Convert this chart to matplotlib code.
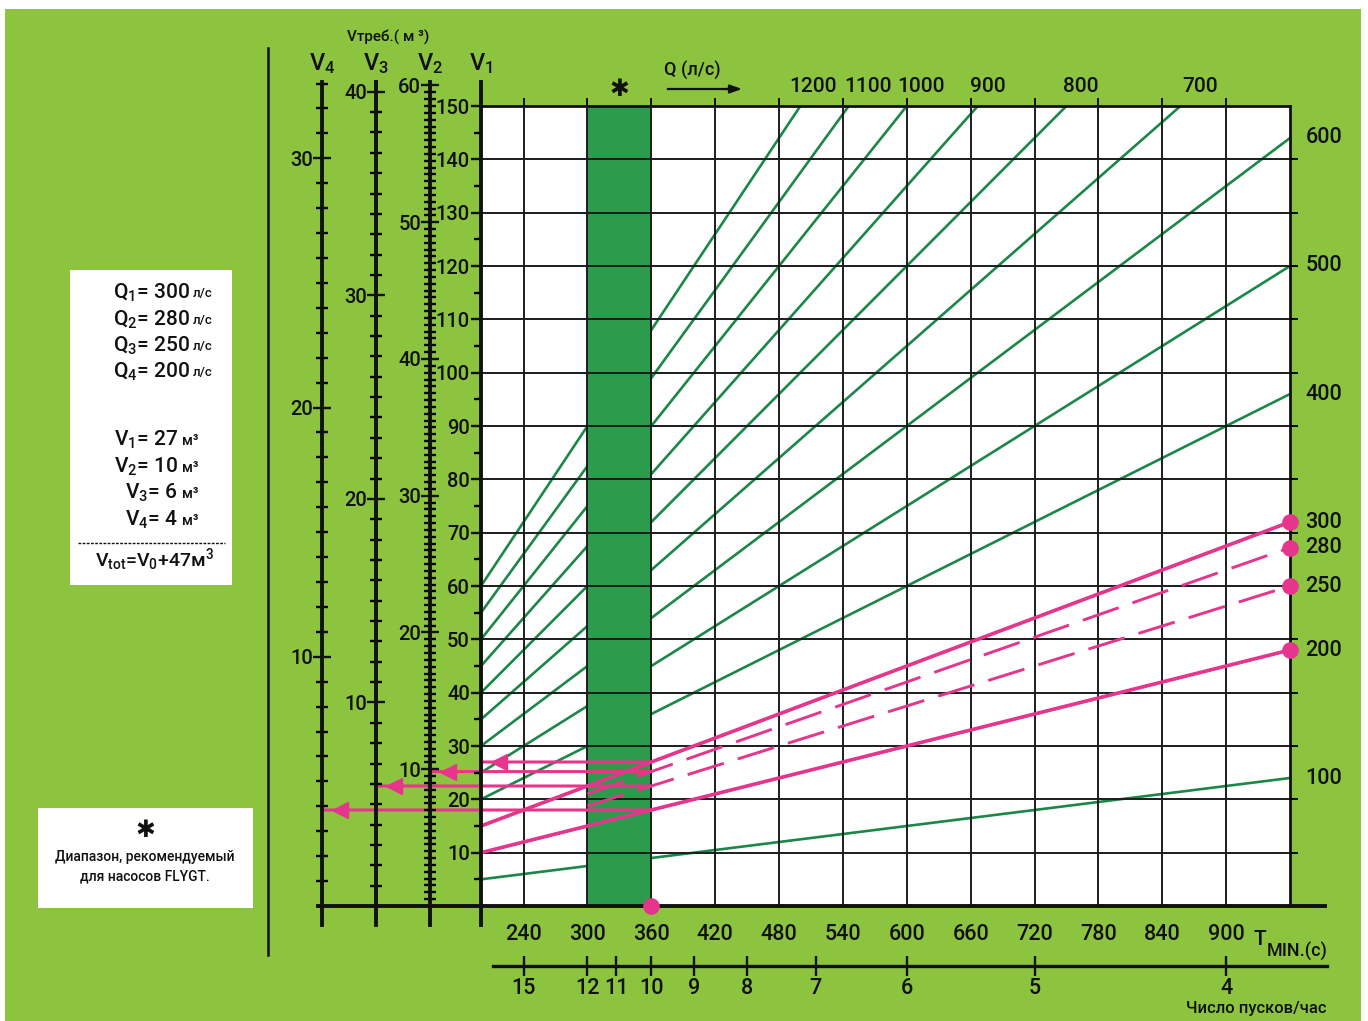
import matplotlib
matplotlib.use("Agg")
import matplotlib.pyplot as plt
import numpy as np
from matplotlib.transforms import offset_copy, blended_transform_factory
from matplotlib.patches import Rectangle
from matplotlib.lines import Line2D

plt.rcParams['font.family'] = ['Roboto', 'Liberation Sans', 'DejaVu Sans']
plt.rcParams['font.weight'] = 'medium'
plt.rcParams['mathtext.fontset'] = 'custom'
plt.rcParams['mathtext.rm'] = 'Roboto:medium'
plt.rcParams['mathtext.it'] = 'Roboto:medium'
plt.rcParams['mathtext.bf'] = 'Roboto:bold'

# ---------------- data ----------------
T_LIMITS = [200, 960]                 # T_min (s), x range of the grid
V1_LIMITS = [0, 150]                  # V1 (m3), y range of the grid
T_MIN_TICKS = [240, 300, 360, 420, 480, 540, 600, 660, 720, 780, 840, 900]
V1_GRID = [10, 20, 30, 40, 50, 60, 70, 80, 90, 100, 110, 120, 130, 140]
Q_LINES = [100, 200, 300, 400, 500, 600, 700, 800, 900, 1000, 1100, 1200]   # l/s
Q_TOP_LABELS = [1200, 1100, 1000, 900, 800, 700]
Q_RIGHT_LABELS = [600, 500, 400, 300, 280, 250, 200, 100]
PUMP_NAMES = ['1', '2', '3', '4']
PUMP_Q = [300, 280, 250, 200]         # Q1..Q4, l/s
PUMP_V = [27, 10, 6, 4]               # V1..V4, m3
PUMP_DASHED = [False, True, True, False]
V_EXTRA_TOTAL = 47
T_DESIGN = 360
BAND_T = [300, 360]                   # recommended range (FLYGT)
STARTS_PER_HOUR = [15, 12, 11, 10, 9, 8, 7, 6, 5, 4]

# V_min = Q * T / 4  (litres)  -> m3
def v_min(q, t):
    return q * np.asarray(t, dtype=float) / 4000.0

# ---------------- styling / layout ----------------
BG = '#8cc43f'
BAND = '#2c9b4b'
GLINE = '#1b8748'
PINK = '#e6358c'
INK = '#111111'
TOP_LABEL_NUDGE = [9, 14, 10, 7, 10, 14]   # points, horizontal nudge of top labels

W, H = 1368, 1021
fig = plt.figure(figsize=(W / 100, H / 100), dpi=100)
fig.patch.set_facecolor('white')

def fx(x):
    return x / W

def fy(y):
    return 1 - y / H

fig.add_artist(Rectangle((fx(5), 0), (1361 - 5) / W, (H - 9) / H,
                         transform=fig.transFigure, fc=BG, ec='none', zorder=-10))

L, R, TOP, BOT = 481, 1290, 106, 906
ax = fig.add_axes([fx(L), fy(BOT), (R - L) / W, (BOT - TOP) / H])
ax.set_xlim(*T_LIMITS)
ax.set_ylim(*V1_LIMITS)
ax.set_facecolor('white')
ax.set_xticks(T_MIN_TICKS)
ax.set_yticks(V1_GRID)
ax.grid(True, color='#1c1c1c', lw=1.4)
ax.set_axisbelow(False)
ax.tick_params(axis='x', bottom=False, top=True, direction='out', length=6, width=1.4,
               labelbottom=True, labelsize=15.5, pad=7, colors=INK)
ax.tick_params(axis='y', left=False, right=True, direction='out', length=6, width=1.4,
               labelleft=False)
ax.spines['left'].set_visible(False)
ax.spines['bottom'].set_visible(False)
for s in ['top', 'right']:
    ax.spines[s].set_linewidth(2.0)
    ax.spines[s].set_color(INK)

# green Q lines
for q in Q_LINES:
    ax.plot(T_LIMITS, v_min(q, T_LIMITS), color=GLINE, lw=1.9, zorder=1)

# recommended band
ax.axvspan(BAND_T[0], BAND_T[1], color=BAND, lw=0, zorder=2)

# long bottom axis line
bl = blended_transform_factory(ax.transAxes, ax.transData)
ax.plot([(318 - L) / (R - L), (1325 - L) / (R - L)], [0, 0], color=INK, lw=2.8,
        transform=bl, clip_on=False, zorder=5)

# ---------------- vertical V scales ----------------
EXT_TOP, EXT_BOT = 82, 925
px_per_v = (BOT - TOP) / (V1_LIMITS[1] - V1_LIMITS[0])
v_hi = (BOT - EXT_TOP) / px_per_v
v_lo = -(EXT_BOT - BOT) / px_per_v
SCALES = [  # name, x position (px), ratio to V1, major, minor, max label
    ('4', 322, 0.214, 10, 1, 30),
    ('3', 376, 0.262, 10, 1, 40),
    ('2', 430, 0.390, 10, 0.5, 60),
    ('1', 481, 1.000, 10, 5, 150),
]
scale_axes = {}
for name, xpx, r, major, minor, lmax in SCALES:
    sa = fig.add_axes([fx(xpx), fy(EXT_BOT), 0.001, (EXT_BOT - EXT_TOP) / H])
    sa.set_xlim(0, 1)
    sa.set_ylim(v_lo * r, v_hi * r)
    sa.patch.set_visible(False)
    for s in ['top', 'right', 'bottom']:
        sa.spines[s].set_visible(False)
    sa.spines['left'].set_linewidth(2.8)
    sa.spines['left'].set_color(INK)
    sa.set_xticks([])
    sa.set_yticks(np.arange(major, lmax + 0.01, major))
    sa.set_yticks(np.arange(minor, v_hi * r, minor), minor=True)
    sa.set_yticklabels([str(int(v)) for v in np.arange(major, lmax + 0.01, major)])
    if name == '1':
        sa.tick_params(axis='y', which='major', direction='out', length=7, width=1.7,
                       labelsize=14.5, pad=1, colors=INK)
        sa.tick_params(axis='y', which='minor', direction='out', length=5, width=1.7)
    else:
        sa.tick_params(axis='y', which='major', direction='inout', length=13, width=1.7,
                       labelsize=14.5, pad=0, colors=INK)
        sa.tick_params(axis='y', which='minor', direction='inout', length=9, width=1.7)
    sa.set_zorder(6)
    scale_axes[name] = (sa, r)
    fig.text(fx(xpx), fy(70), r'V$_{%s}$' % name, fontsize=17, ha='center',
             va='baseline', color=INK)

fig.text(fx(388), fy(42), 'Vтреб.( м ³)', fontsize=11, ha='center', va='baseline',
         color=INK)

# ---------------- pump lines (pink) ----------------
for nm, q, dashed in zip(PUMP_NAMES, PUMP_Q, PUMP_DASHED):
    if dashed:
        t = [BAND_T[0], T_LIMITS[1]]
        ax.plot(t, v_min(q, t), color=PINK, lw=2.1, dashes=(13, 5), zorder=7)
    else:
        ax.plot(T_LIMITS, v_min(q, T_LIMITS), color=PINK, lw=2.6, zorder=7)
    ax.plot([T_LIMITS[1]], [v_min(q, T_LIMITS[1])], 'o', color=PINK, ms=11,
            clip_on=False, zorder=8)

# horizontal arrows from T_design to each V scale
for nm, q, vv in zip(PUMP_NAMES, PUMP_Q, PUMP_V):
    sa, r = scale_axes[nm]
    vd = float(v_min(q, T_DESIGN))
    ax.annotate('', xy=(0, vd * r), xycoords=sa.transData, xytext=(T_DESIGN, vd),
                textcoords='data',
                arrowprops=dict(arrowstyle='-', color=PINK, lw=2.2, shrinkA=0, shrinkB=0),
                zorder=7, annotation_clip=False)
    tr = offset_copy(sa.transData, fig=fig, x=18, y=0, units='dots')
    ax.plot([0], [vd * r], marker='<', ms=11, color=PINK, transform=tr, clip_on=False,
            zorder=8, mec=PINK)

ax.plot([T_DESIGN], [0], 'o', color=PINK, ms=11, clip_on=False, zorder=8)

# ---------------- Q labels ----------------
for q, nudge in zip(Q_TOP_LABELS, TOP_LABEL_NUDGE):
    t_exit = V1_LIMITS[1] * 4000.0 / q
    ax.annotate(str(q), xy=(t_exit, V1_LIMITS[1]), xytext=(nudge, 14),
                textcoords='offset points', ha='center', va='center', fontsize=15,
                color=INK, annotation_clip=False)
for q in Q_RIGHT_LABELS:
    ax.annotate(str(q), xy=(T_LIMITS[1], float(v_min(q, T_LIMITS[1]))), xytext=(11, 0),
                textcoords='offset points', ha='left', va='center', fontsize=15.5,
                color=INK, annotation_clip=False)

ax.annotate('✱', xy=(np.mean(BAND_T), V1_LIMITS[1]), xytext=(0, 12),
            textcoords='offset points', ha='center', va='center', fontsize=17,
            family='DejaVu Sans', color=INK, annotation_clip=False)
fig.text(fx(664), fy(76), 'Q (л/с)', fontsize=13, ha='left', va='baseline', color=INK)
fig.add_artist(Line2D([fx(668), fx(730)], [fy(89), fy(89)], color=INK, lw=1.6))
ax.annotate('', xy=(fx(742), fy(89)), xycoords='figure fraction',
            xytext=(fx(725), fy(89)), textcoords='figure fraction',
            arrowprops=dict(arrowstyle='-|>,head_length=0.7,head_width=0.25', color=INK,
                            lw=1.6, shrinkA=0, shrinkB=0), annotation_clip=False)

# T_min label
fig.text(fx(1253), fy(945), 'T', fontsize=15, ha='left', va='baseline', color=INK)
fig.text(fx(1267), fy(957), 'MIN.(с)', fontsize=13, ha='left', va='baseline', color=INK)

# ---------------- starts per hour scale ----------------
axs = fig.add_axes([fx(L), fy(966), (R - L) / W, 0.0005])
axs.set_xlim(*T_LIMITS)
axs.set_ylim(0, 1)
axs.patch.set_visible(False)
for s in axs.spines.values():
    s.set_visible(False)
axs.set_yticks([])
axs.set_xticks([3600.0 / n for n in STARTS_PER_HOUR])
axs.set_xticklabels([str(n) for n in STARTS_PER_HOUR])
axs.tick_params(axis='x', direction='inout', length=15, width=1.7, labelsize=15.5,
                pad=1, colors=INK)
axs.plot([(493 - L) / (R - L), (1327 - L) / (R - L)], [0, 0], color=INK, lw=2.4,
         transform=axs.transAxes, clip_on=False)
fig.text(fx(1256), fy(1013), 'Число пусков/час', fontsize=12, ha='center',
         va='baseline', color=INK)

# ---------------- left vertical rule ----------------
fig.add_artist(Line2D([fx(268), fx(268)], [fy(48), fy(955)], color=INK, lw=1.8))

# ---------------- info box ----------------
fig.add_artist(Rectangle((fx(70), fy(585)), (232 - 70) / W, (585 - 270) / H,
                         transform=fig.transFigure, fc='white', ec='none'))
q_base = [299, 326, 352, 378]
for nm, q, yb in zip(PUMP_NAMES, PUMP_Q, q_base):
    fig.text(fx(190), fy(yb), r'Q$_{%s}$= %d' % (nm, q), fontsize=15, ha='right',
             va='baseline', color=INK)
    fig.text(fx(193), fy(yb - 2), 'л/с', fontsize=9.5, ha='left', va='baseline', color=INK)
v_base = [446, 473, 499, 526]
for nm, vv, yb in zip(PUMP_NAMES, PUMP_V, v_base):
    fig.text(fx(178), fy(yb), r'V$_{%s}$= %d' % (nm, vv), fontsize=15, ha='right',
             va='baseline', color=INK)
    fig.text(fx(182), fy(yb - 1), 'м³', fontsize=10.5, ha='left', va='baseline', color=INK)
fig.add_artist(Line2D([fx(78), fx(225)], [fy(543), fy(543)], color=INK, lw=1.0,
                      ls=(0, (2, 1))))
fig.text(fx(154), fy(566), r'V$_{\mathrm{tot}}$=V$_{0}$+%dм$^{3}$' % V_EXTRA_TOTAL,
         fontsize=14, ha='center', va='baseline', color=INK)

# ---------------- note box ----------------
fig.add_artist(Rectangle((fx(38), fy(908)), (253 - 38) / W, (908 - 808) / H,
                         transform=fig.transFigure, fc='white', ec='none'))
fig.text(fx(145), fy(830), '✱', fontsize=17, family='DejaVu Sans', ha='center',
         va='center', color=INK)
fig.text(fx(145), fy(861), 'Диапазон, рекомендуемый', fontsize=10, ha='center',
         va='baseline', color=INK)
fig.text(fx(145), fy(880), 'для насосов FLYGT.', fontsize=10, ha='center',
         va='baseline', color=INK)

fig.savefig('out.png', dpi=100, facecolor=fig.get_facecolor())
